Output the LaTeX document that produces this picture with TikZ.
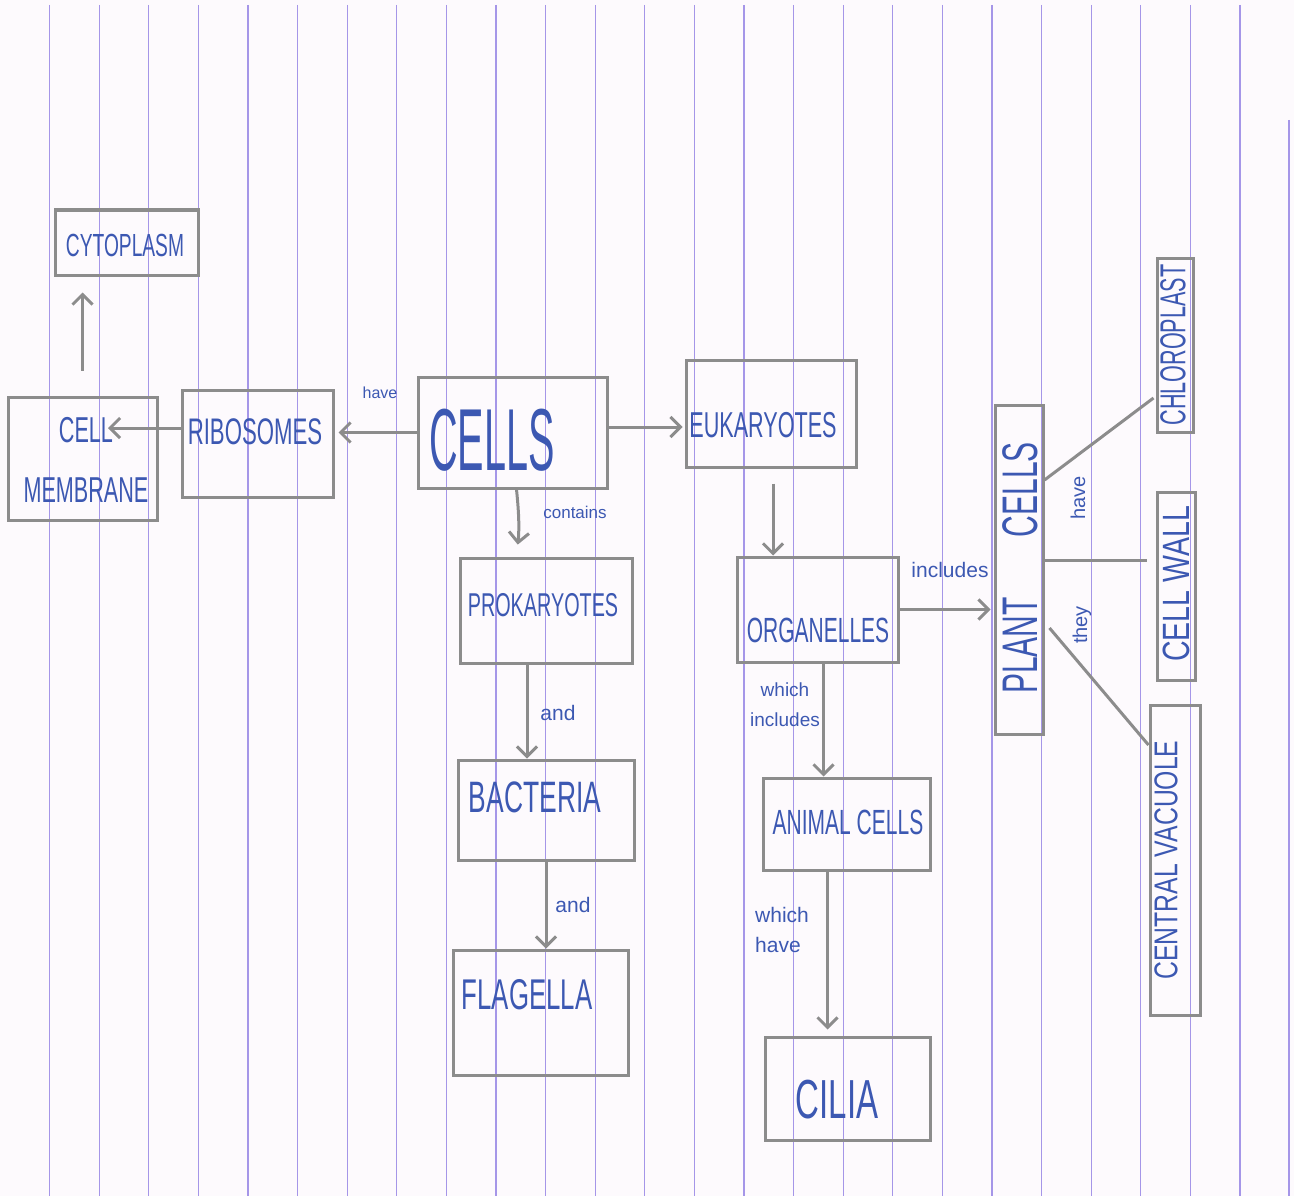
\documentclass[tikz,border=0pt]{standalone}
\usepackage{fontspec}
\setmainfont{Liberation Sans}
\newfontfamily\hand[FakeStretch=0.6]{Liberation Sans}
\newfontfamily\handw[FakeStretch=0.75]{Liberation Sans}
\newfontfamily\handn[FakeStretch=0.45]{Liberation Sans}
\usetikzlibrary{arrows.meta,calc}
\definecolor{paper}{RGB}{253,250,253}
\definecolor{rule}{RGB}{165,150,232}
\definecolor{pencil}{RGB}{140,140,140}
\definecolor{ink}{RGB}{60,88,178}
\tikzset{
  box/.style={draw=pencil, line width=3pt, rectangle, inner sep=0pt},
  txt/.style={text=ink, inner sep=0pt},
  lbl/.style={text=ink, inner sep=0pt},
  con/.style={draw=pencil, line width=3pt},
  arr/.style={con, -{Straight Barb[length=10pt,width=20pt,line width=3pt]}},
  ruling/.style={draw=rule, line width=1.2pt}
}
\begin{document}
\begin{tikzpicture}[x=1pt,y=-1pt]
\useasboundingbox (0,0) rectangle (1294,1196);
\fill[paper] (0,0) rectangle (1294,1196);
% ruled lines of the paper
\foreach \k in {0,...,24}{
  \draw[ruling] ({49.5+49.6*\k},5) -- ({49.5+49.6*\k},1196);
}
\draw[ruling] (1289,120) -- (1289,1196);

% boxes
\node[box, minimum width=143, minimum height=65]  (cyto)   at (126.5,242.5) {};
\node[box, minimum width=149, minimum height=123] (memb)   at (82.5,458.5) {};
\node[box, minimum width=151, minimum height=107] (ribo)   at (257.5,443.5) {};
\node[box, minimum width=189, minimum height=111] (cells)  at (512.5,432.5) {};
\node[box, minimum width=170, minimum height=107] (euk)    at (771,413.5) {};
\node[box, minimum width=172, minimum height=105] (prok)   at (546,610.5) {};
\node[box, minimum width=161, minimum height=105] (org)    at (817.5,609.5) {};
\node[box, minimum width=176, minimum height=100] (bact)   at (546,810) {};
\node[box, minimum width=175, minimum height=125] (flag)   at (540.5,1012.5) {};
\node[box, minimum width=167, minimum height=92]  (anim)   at (846.5,824) {};
\node[box, minimum width=165, minimum height=103] (cilia)  at (847.5,1088.5) {};
\node[box, minimum width=48,  minimum height=329] (plant)  at (1019,569.5) {};
\node[box, minimum width=36,  minimum height=174] (chloro) at (1175,345) {};
\node[box, minimum width=38,  minimum height=188] (wall)   at (1176,586) {};
\node[box, minimum width=50,  minimum height=310] (vac)    at (1175,860) {};

% box texts
\node[txt, font=\hand\fontsize{32}{34}\selectfont] (cytoT) at (125,245) {CYTOPLASM};
\node[txt, font=\hand\fontsize{36}{60}\selectfont, align=center] (membT) at (86,460) {CELL\\MEMBRANE};
\node[txt, font=\hand\fontsize{37}{40}\selectfont] (riboT) at (255,432) {RIBOSOMES};
\node[txt, font=\handn\fontsize{88}{90}\selectfont] (cellsT) at (492,440) {CELLS};
\node[txt, font=\hand\fontsize{36}{38}\selectfont] (eukT) at (763,425) {EUKARYOTES};
\node[txt, font=\hand\fontsize{33}{35}\selectfont] (prokT) at (543,605) {PROKARYOTES};
\node[txt, font=\hand\fontsize{35}{37}\selectfont] (orgT) at (818,630) {ORGANELLES};
\node[txt, font=\hand\fontsize{44}{46}\selectfont] (bactT) at (535,797) {BACTERIA};
\node[txt, font=\hand\fontsize{43}{45}\selectfont] (flagT) at (527,995) {FLAGELLA};
\node[txt, font=\hand\fontsize{35}{37}\selectfont] (animT) at (848,822) {ANIMAL CELLS};
\node[txt, font=\hand\fontsize{55}{57}\selectfont] (ciliaT) at (837,1100) {CILIA};
\node[txt, font=\hand\fontsize{50}{52}\selectfont, rotate=90] (plantT) at (1020,568) {PLANT\hspace{60pt}CELLS};
\node[txt, font=\hand\fontsize{36}{38}\selectfont, rotate=90] (chloT) at (1173,345) {CHLOROPLAST};
\node[txt, font=\handw\fontsize{38}{40}\selectfont, rotate=90] (wallT) at (1176,584) {CELL WALL};
\node[txt, font=\handw\fontsize{33}{35}\selectfont, rotate=90] (vacT) at (1166,860) {CENTRAL VACUOLE};

% connector labels
\node[lbl, font=\fontsize{16}{18}\selectfont] (haveA) at (380,393) {have};
\node[lbl, font=\fontsize{17}{19}\selectfont] (contT) at (575,512) {contains};
\node[lbl, font=\fontsize{21}{23}\selectfont] (and1) at (558,713) {and};
\node[lbl, font=\fontsize{21}{23}\selectfont] (and2) at (573,905) {and};
\node[lbl, font=\fontsize{19}{30}\selectfont, align=center] (whInc) at (785,705) {which\\includes};
\node[lbl, font=\fontsize{21}{30}\selectfont, align=left] (whHave) at (782,930) {which\\have};
\node[lbl, font=\fontsize{21}{23}\selectfont] (incT) at (950,570) {includes};
\node[lbl, font=\fontsize{20}{22}\selectfont, rotate=90] (theyT) at (1082,625) {they};
\node[lbl, font=\fontsize{20}{22}\selectfont, rotate=90] (have2) at (1078,498) {have};

% connectors
\draw[arr, shorten >=4pt] (cells.west) -- (cells.west -| ribo.east);
\coordinate (membIn) at (108,428);
\draw[arr] (ribo.west |- membIn) -- (membIn);
\draw[arr, shorten <=25pt, shorten >=16pt] (memb.north) -- (memb.north |- cyto.south);
\coordinate (ce) at ($(cells.east)+(0,-5.5)$);
\draw[arr, shorten >=2pt] (ce) -- (ce -| euk.west);
\coordinate (cs) at ($(cells.south)+(4,0)$);
\draw[arr, shorten >=12pt] (cs) to[bend left=6] (cs |- prok.north);
\coordinate (es) at ($(euk.south)+(2,0)$);
\draw[arr, shorten <=15pt] (es) -- (es |- org.north);
\coordinate (ps) at ($(prok.south)+(-19,0)$);
\draw[arr] (ps) -- (ps |- bact.north);
\draw[arr] (bact.south) -- (bact.south |- flag.north);
\coordinate (os) at ($(org.south)+(6,0)$);
\draw[arr] (os) -- (os |- anim.north);
\coordinate (as) at ($(anim.south)+(-19,0)$);
\draw[arr, shorten >=6pt] (as) -- (as |- cilia.north);
\draw[arr, shorten >=3pt] (org.east) -- (org.east -| plant.west);
% plant cells branches
\coordinate (p1) at ($(plant.east)+(0,-89.5)$);
\coordinate (c1) at ($(chloro.west)+(-2,53)$);
\draw[con] (p1) -- (c1);
\coordinate (p2) at ($(plant.east)+(0,-9.5)$);
\draw[con, shorten >=9pt] (p2) -- (p2 -| wall.west);
\coordinate (p3) at ($(plant.east)+(5,58.5)$);
\coordinate (c3) at ($(vac.west)+(0,-115)$);
\draw[con] (p3) -- (c3);
\end{tikzpicture}
\end{document}
